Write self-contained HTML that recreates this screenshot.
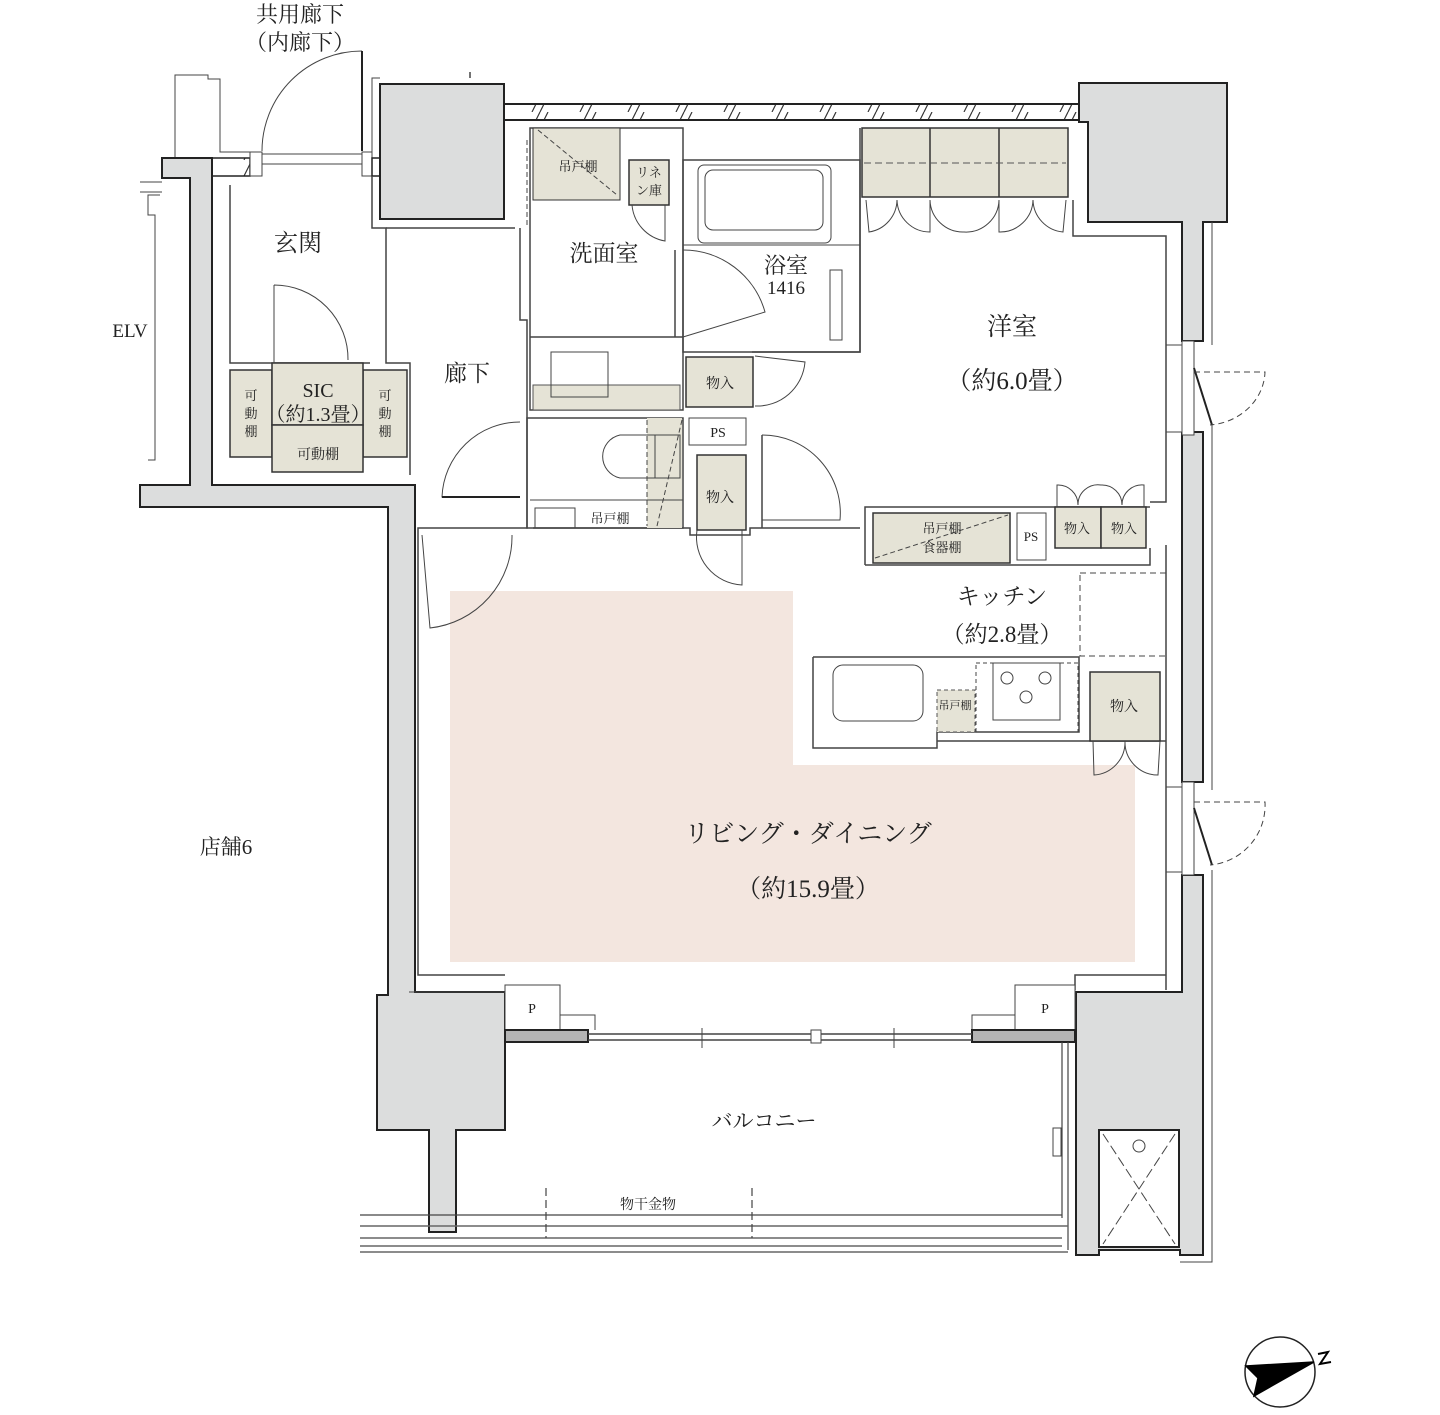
<!DOCTYPE html>
<html><head><meta charset="utf-8"><style>
html,body{margin:0;padding:0;background:#fff;}
svg{display:block;}
text{font-family:"Liberation Serif","Noto Serif CJK SC",serif;fill:#222;text-anchor:middle;}
</style></head><body>
<svg width="1440" height="1415" viewBox="0 0 1440 1415" xmlns="http://www.w3.org/2000/svg">
<defs>
<pattern id="hatch" width="48" height="16" patternUnits="userSpaceOnUse">
<line x1="4" y1="16" x2="12" y2="0" stroke="#333" stroke-width="1.2"/>
<line x1="12" y1="16" x2="20" y2="0" stroke="#333" stroke-width="1.2"/>
</pattern>
</defs>
<g fill="none" stroke="#444" stroke-width="1.5">

<polygon points="450,591 793,591 793,765 1135,765 1135,962 450,962" fill="#f3e6df" stroke="none"/>

<polyline points="148,460 155,460 155,215 148,215 148,195 160,195" stroke-width="1"/>
<polyline points="175,158 175,75 208,75 208,79 220,79 220,152 262,152" stroke-width="1"/>
<line x1="140" y1="182" x2="162" y2="182" stroke-width="1"/>
<line x1="140" y1="192" x2="162" y2="192" stroke-width="1"/>

<polygon points="162,158 212,158 212,485 415,485 415,992 505,992 505,1130 456,1130 456,1232 429,1232 429,1130 377,1130 377,995 388,995 388,507 140,507 140,485 190,485 190,178 162,178" fill="#dcdddd" stroke="#222" stroke-width="2"/>
<rect x="212" y="158" width="38" height="18" fill="url(#hatch)" stroke="#222"/>
<rect x="250" y="152" width="12" height="24" fill="#fff" stroke="#444" stroke-width="1"/>
<rect x="262" y="154" width="100" height="10" fill="#fff" stroke="#444" stroke-width="1"/>
<rect x="362" y="152" width="10" height="24" fill="#fff" stroke="#444" stroke-width="1"/>
<rect x="372" y="158" width="8" height="18" fill="#fff" stroke="#222"/>
<path d="M262,151 A100,100 0 0 1 362,51" stroke-width="1"/>
<line x1="362" y1="51" x2="362" y2="151" stroke="#222" stroke-width="2"/>
<polyline points="372,152 372,78 380,78" stroke-width="1"/>
<polyline points="470,78 470,72 M478,72 478,83 M486,72 486,83" stroke-width="1.5"/>

<rect x="380" y="84" width="124" height="135" fill="#dcdddd" stroke="#222" stroke-width="2"/>
<rect x="504" y="104" width="576" height="16" fill="url(#hatch)" stroke="#222" stroke-width="2"/>
<polygon points="1079,83 1227,83 1227,222 1203,222 1203,341 1182,341 1182,222 1088,222 1088,122 1079,122" fill="#dcdddd" stroke="#222" stroke-width="2"/>
<line x1="1212" y1="222" x2="1212" y2="345" stroke-width="1"/>
<polygon points="1182,432 1203,432 1203,782 1182,782" fill="#dcdddd" stroke="#222" stroke-width="2"/>
<line x1="1212" y1="425" x2="1212" y2="790" stroke-width="1"/>
<polygon points="1182,875 1203,875 1203,1255 1180,1255 1180,1250 1099,1250 1099,1255 1076,1255 1076,992 1182,992" fill="#dcdddd" stroke="#222" stroke-width="2"/>
<rect x="1099" y="1130" width="80" height="117" fill="#fff" stroke="#222" stroke-width="2"/>
<path d="M1103,1134 L1175,1244 M1175,1134 L1103,1244" stroke-dasharray="10,4" stroke-width="1"/>
<circle cx="1139" cy="1146" r="6" stroke-width="1"/>
<polyline points="1212,870 1212,1262 1180,1262 M1070,1262 1099,1262" stroke-width="1"/>
<rect x="1166" y="345" width="16" height="87" fill="#fff" stroke-width="1"/>
<rect x="1182" y="341" width="12" height="94" fill="#fff" stroke-width="1"/>
<line x1="1194" y1="368" x2="1212" y2="425" stroke="#222" stroke-width="2"/>
<path d="M1194,372 L1265,372 A60,55 0 0 1 1210,425" stroke-dasharray="6,4" stroke-width="1"/>
<rect x="1166" y="787" width="16" height="85" fill="#fff" stroke-width="1"/>
<rect x="1182" y="782" width="12" height="93" fill="#fff" stroke-width="1"/>
<line x1="1194" y1="808" x2="1212" y2="865" stroke="#222" stroke-width="2"/>
<path d="M1194,802 L1265,802 A60,60 0 0 1 1210,865" stroke-dasharray="6,4" stroke-width="1"/>

<polyline points="230,185 230,363 370,363"/>
<polyline points="372,176 372,228 386,228 386,363 410,363 410,475"/>
<line x1="386" y1="228" x2="515" y2="228"/>
<rect x="230" y="370" width="42" height="87" fill="#e5e3d6" stroke="#333"/>
<rect x="363" y="370" width="44" height="87" fill="#e5e3d6" stroke="#333"/>
<rect x="272" y="363" width="91" height="62" fill="#e5e3d6" stroke="#333"/>
<rect x="272" y="425" width="91" height="47" fill="#e5e3d6" stroke="#333"/>
<path d="M274,285 L274,363 M274,285 A74,74 0 0 1 348,360" stroke-width="1"/>

<polyline points="520,228 520,320 527,320 527,528 418,528 418,975 505,975"/>
<polyline points="533,528 690,528 690,535 750,535 750,528 860,528"/>
<rect x="530" y="128" width="153" height="282" stroke-width="1.5"/>
<polyline points="527,140 527,225" stroke-dasharray="5,3" stroke-width="1"/>
<rect x="533" y="128" width="87" height="72" fill="#e5e3d6" stroke="#333" stroke-width="1"/>
<path d="M538,130 L617,195" stroke-dasharray="5,3" stroke-width="1"/>
<rect x="629" y="160" width="40" height="45" fill="#e5e3d6" stroke="#333"/>
<path d="M632,205 A40,40 0 0 0 665,241 L665,205" stroke-width="1"/>
<rect x="533" y="385" width="147" height="25" fill="#e5e3d6" stroke="#555" stroke-width="1"/>
<rect x="551" y="352" width="57" height="45" stroke-width="1"/>
<line x1="530" y1="337" x2="683" y2="337"/>
<rect x="683" y="160" width="177" height="192"/>
<rect x="698" y="165" width="133" height="78" rx="6" stroke-width="1"/>
<rect x="705" y="170" width="118" height="60" rx="8" stroke-width="1"/>
<line x1="683" y1="245" x2="860" y2="245" stroke-width="1"/>
<rect x="830" y="270" width="12" height="70" stroke-width="1"/>
<path d="M683,250 A85,85 0 0 1 765,312 L683,337" stroke-width="1"/>
<line x1="675" y1="250" x2="675" y2="337"/>
<rect x="686" y="357" width="67" height="50" fill="#e5e3d6" stroke="#333"/>
<path d="M755,356 L805,362 A48,48 0 0 1 755,406" stroke-width="1"/>
<rect x="527" y="418" width="156" height="110" stroke-width="1.5"/>
<rect x="647" y="418" width="35" height="110" fill="#e5e3d6" stroke="none"/>
<path d="M647,420 L647,526 M682,420 L657,526" stroke-dasharray="5,3" stroke-width="1"/>
<path d="M680,435 L620,435 A22,22 0 0 0 620,478 L680,478" stroke-width="1"/>
<rect x="655" y="435" width="25" height="43" stroke-width="1"/>
<rect x="535" y="508" width="40" height="20" stroke-width="1"/>
<line x1="530" y1="500" x2="683" y2="500" stroke-width="1"/>
<rect x="689" y="418" width="57" height="27" fill="#fff" stroke-width="1"/>
<rect x="697" y="455" width="49" height="75" fill="#e5e3d6" stroke="#333"/>
<path d="M697,530 A48,48 0 0 0 742,585 L742,530" stroke-width="1"/>
<path d="M520,422 A78,78 0 0 0 442,497 L520,497" stroke-width="1"/>
<line x1="442" y1="497" x2="520" y2="497" stroke="#222" stroke-width="2"/>
<path d="M422,535 L430,628 A92,92 0 0 0 512,535" stroke-width="1"/>
<path d="M762,435 A78,78 0 0 1 840,520 L762,520" stroke-width="1"/>
<line x1="762" y1="435" x2="762" y2="528"/>

<polyline points="860,128 860,352 752,352"/>
<polyline points="1073,200 1073,236 1166,236 1166,502 1150,502"/>
<rect x="862" y="128" width="206" height="69" fill="#e5e3d6" stroke="#333"/>
<line x1="930" y1="128" x2="930" y2="197" stroke="#333"/>
<line x1="999" y1="128" x2="999" y2="197" stroke="#333"/>
<line x1="864" y1="163" x2="1066" y2="163" stroke="#555" stroke-dasharray="7,4" stroke-width="1"/>
<path d="M866,200 L869,232 A33,33 0 0 0 897,200 A33,33 0 0 0 930,232 L930,200 A33,33 0 0 0 964,232 A33,33 0 0 0 999,200 L999,232 A33,33 0 0 0 1033,200 A33,33 0 0 0 1063,232 L1066,200" stroke-width="1"/>
<polyline points="865,565 865,507 1150,507"/>
<rect x="873" y="513" width="137" height="50" fill="#e5e3d6" stroke="#333"/>
<path d="M875,558 L1008,515" stroke-dasharray="5,3" stroke-width="1"/>
<rect x="1017" y="513" width="29" height="47" fill="#fff" stroke-width="1"/>
<rect x="1055" y="507" width="46" height="41" fill="#e5e3d6" stroke="#333"/>
<rect x="1101" y="507" width="45" height="41" fill="#e5e3d6" stroke="#333"/>
<path d="M1057,507 L1057,485 A20,20 0 0 1 1078,505 A20,20 0 0 1 1101,485 A20,20 0 0 1 1122,505 A20,20 0 0 1 1144,485 L1144,507" stroke-width="1"/>
<polyline points="865,565 1150,565 1150,548"/>

<rect x="1080" y="573" width="86" height="83" stroke-dasharray="6,4" stroke-width="1"/>
<polyline points="813,657 1079,657 1079,732 937,732 937,748 813,748 813,657"/>
<rect x="833" y="665" width="90" height="56" rx="10" stroke-width="1"/>
<rect x="937" y="690" width="38" height="42" fill="#e5e3d6" stroke="#555" stroke-dasharray="4,3" stroke-width="1"/>
<rect x="976" y="663" width="102" height="69" stroke-dasharray="4,3" stroke-width="1"/>
<rect x="993" y="663" width="67" height="57" stroke-width="1"/>
<circle cx="1007" cy="678" r="6" stroke-width="1"/><circle cx="1045" cy="678" r="6" stroke-width="1"/><circle cx="1026" cy="697" r="6" stroke-width="1"/>
<polyline points="937,741 1166,741"/>
<line x1="1166" y1="545" x2="1166" y2="990"/>
<rect x="1090" y="672" width="70" height="69" fill="#e5e3d6" stroke="#333"/>
<path d="M1093,741 L1094,775 A33,33 0 0 0 1125,741 A33,33 0 0 0 1158,775 L1160,741" stroke-width="1"/>
<polyline points="1166,975 1075,975 1075,990"/>

<polyline points="409,992 505,992 505,985 560,985 560,1015 595,1015 595,1030" stroke-width="1"/>
<rect x="505" y="985" width="55" height="45" fill="#fff" stroke-width="1"/>
<polyline points="972,1030 972,1015 1015,1015 1015,985" stroke-width="1"/>
<rect x="1015" y="985" width="60" height="45" fill="#fff" stroke-width="1"/>
<rect x="505" y="1030" width="83" height="12" fill="#b4b4b4" stroke="#222" stroke-width="2"/>
<rect x="972" y="1030" width="103" height="12" fill="#b4b4b4" stroke="#222" stroke-width="2"/>
<line x1="588" y1="1034" x2="972" y2="1034" stroke-width="1.5"/>
<line x1="588" y1="1040" x2="972" y2="1040" stroke-width="1.5"/>
<line x1="702" y1="1028" x2="702" y2="1048" stroke-width="1"/>
<line x1="894" y1="1028" x2="894" y2="1048" stroke-width="1"/>
<rect x="811" y="1030" width="10" height="13" fill="#fff" stroke-width="1"/>
<line x1="1062" y1="1042" x2="1062" y2="1218" stroke-width="1.2"/>
<line x1="1068" y1="1042" x2="1068" y2="1250" stroke-width="1.2"/>
<rect x="1053" y="1128" width="8" height="28" stroke-width="1"/>
<line x1="360" y1="1215" x2="1062" y2="1215" stroke-width="1.2"/>
<line x1="360" y1="1226" x2="1068" y2="1226" stroke-width="1.5" stroke="#666"/>
<line x1="360" y1="1238" x2="1062" y2="1238" stroke-width="1.5" stroke="#666"/>
<line x1="360" y1="1246" x2="1062" y2="1246" stroke-width="1.5" stroke="#666"/>
<line x1="360" y1="1252" x2="1068" y2="1252" stroke-width="1.5" stroke="#666"/>
<line x1="546" y1="1188" x2="546" y2="1238" stroke-dasharray="8,4" stroke-width="1.2"/>
<line x1="752" y1="1188" x2="752" y2="1238" stroke-dasharray="8,4" stroke-width="1.2"/>

<circle cx="1280" cy="1372" r="35" stroke="#222" stroke-width="1.5"/>
<polygon points="1246,1366 1314,1362 1254,1396 1258,1378" fill="#000" stroke="#000"/>
<path d="M1318,1354 L1328,1352 L1320,1364 L1331,1362" stroke="#000" stroke-width="2"/>
</g>

<text x="300" y="22" font-size="22">共用廊下</text>
<text x="300" y="50" font-size="22">（内廊下）</text>
<text x="298" y="251" font-size="24">玄関</text>
<text x="130" y="337" font-size="19">ELV</text>
<text x="318" y="397" font-size="20">SIC</text>
<text x="318" y="421" font-size="20">（約1.3畳）</text>
<text x="251" y="400" font-size="13">可</text><text x="251" y="418" font-size="13">動</text><text x="251" y="436" font-size="13">棚</text>
<text x="385" y="400" font-size="13">可</text><text x="385" y="418" font-size="13">動</text><text x="385" y="436" font-size="13">棚</text>
<text x="318" y="459" font-size="14">可動棚</text>
<text x="467" y="381" font-size="23">廊下</text>
<text x="604" y="261" font-size="23">洗面室</text>
<text x="786" y="273" font-size="22">浴室</text>
<text x="786" y="294" font-size="19">1416</text>
<text x="578" y="171" font-size="13">吊戸棚</text>
<text x="649" y="177" font-size="13">リネ</text>
<text x="649" y="195" font-size="13">ン庫</text>
<text x="720" y="388" font-size="14">物入</text>
<text x="718" y="437" font-size="14">PS</text>
<text x="720" y="502" font-size="14">物入</text>
<text x="610" y="523" font-size="13">吊戸棚</text>
<text x="1012" y="335" font-size="25">洋室</text>
<text x="1012" y="389" font-size="25">（約6.0畳）</text>
<text x="942" y="533" font-size="13">吊戸棚</text>
<text x="942" y="552" font-size="13">食器棚</text>
<text x="1031" y="541" font-size="13">PS</text>
<text x="1077" y="533" font-size="13">物入</text>
<text x="1124" y="533" font-size="13">物入</text>
<text x="1002" y="604" font-size="23">キッチン</text>
<text x="1002" y="642" font-size="23">（約2.8畳）</text>
<text x="955" y="709" font-size="11">吊戸棚</text>
<text x="1124" y="711" font-size="14">物入</text>
<text x="808" y="842" font-size="25">リビング・ダイニング</text>
<text x="808" y="897" font-size="25">（約15.9畳）</text>
<text x="226" y="854" font-size="21">店舗6</text>
<text x="764" y="1128" font-size="21">バルコニー</text>
<text x="648" y="1209" font-size="14">物干金物</text>
<text x="532" y="1013" font-size="14">P</text>
<text x="1045" y="1013" font-size="14">P</text>
</svg>
</body></html>
